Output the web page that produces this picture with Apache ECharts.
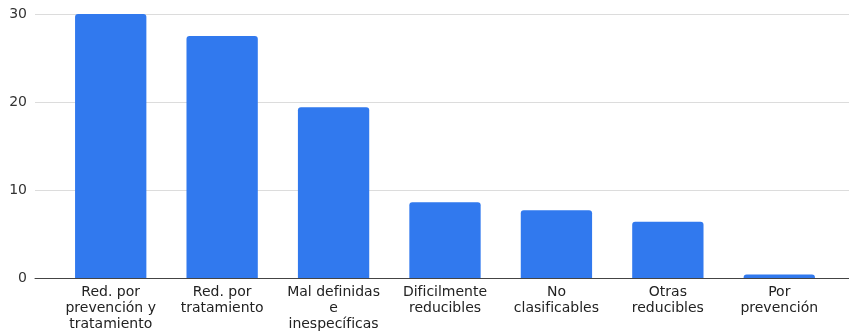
<!DOCTYPE html>
<html lang="es">
<head>
    <meta charset="utf-8">
    <title>Causas</title>
    <script src="https://cdn.jsdelivr.net/npm/echarts@6/dist/echarts.min.js"></script>
    <style>
        html, body { margin: 0; height: 100%; background: #fff; }
        #main { width: 849px; height: 332px; }
    </style>
</head>
<body>
    <div id="main"></div>
    <script>
        // categorias (saltos de linea como en el original)
        var categorias = [
            'Red. por\nprevención y\ntratamiento',
            'Red. por\ntratamiento',
            'Mal definidas\ne\ninespecíficas',
            'Dificilmente\nreducibles',
            'No\nclasificables',
            'Otras\nreducibles',
            'Por\nprevención'
        ];
        var valores = [30, 27.5, 19.4, 8.6, 7.7, 6.4, 0.4];
        var ticksY = [0, 10, 20, 30];

        var myChart = echarts.init(document.getElementById('main'), null, { renderer: 'canvas' });

        var fuente = 'DejaVu Sans';

        var option = {
            animation: false,
            // grid 0: barras; grid 1: solo lineas de fondo (empiezan mas a la izquierda)
            grid: [
                { left: 55, right: 14, top: 14, bottom: 54, outerBoundsMode: 'none', containLabel: false },
                { left: 35, right: 0, top: 14, bottom: 54, outerBoundsMode: 'none', containLabel: false }
            ],
            xAxis: [
                {
                    type: 'category',
                    data: categorias,
                    axisTick: { show: false },
                    axisLine: { show: false },
                    axisLabel: {
                        interval: 0,
                        margin: 6,
                        color: '#222',
                        fontFamily: fuente,
                        fontSize: 14,
                        lineHeight: 16
                    },
                    z: 3
                },
                {
                    type: 'value',
                    gridIndex: 1,
                    min: 0,
                    max: 1,
                    axisTick: { show: false },
                    axisLabel: { show: false },
                    splitLine: { show: false },
                    axisLine: { show: true, onZero: false, lineStyle: { color: '#444', width: 1 } },
                    z: 3
                }
            ],
            yAxis: [
                {
                    type: 'value',
                    min: ticksY[0],
                    max: ticksY[ticksY.length - 1],
                    interval: 10,
                    axisLine: { show: false },
                    axisTick: { show: false },
                    splitLine: { show: false },
                    axisLabel: {
                        margin: 28,
                        color: '#333',
                        fontFamily: fuente,
                        fontSize: 14
                    }
                },
                {
                    type: 'value',
                    gridIndex: 1,
                    min: ticksY[0],
                    max: ticksY[ticksY.length - 1],
                    interval: 10,
                    axisLine: { show: false },
                    axisTick: { show: false },
                    axisLabel: { show: false },
                    splitLine: { lineStyle: { color: '#dcdcdc' } }
                }
            ],
            series: [{
                type: 'bar',
                data: valores,
                barWidth: '64%',
                itemStyle: { color: '#3179ee', borderRadius: [3, 3, 0, 0] },
                z: 2
            }]
        };

        myChart.setOption(option);
    </script>
</body>
</html>
